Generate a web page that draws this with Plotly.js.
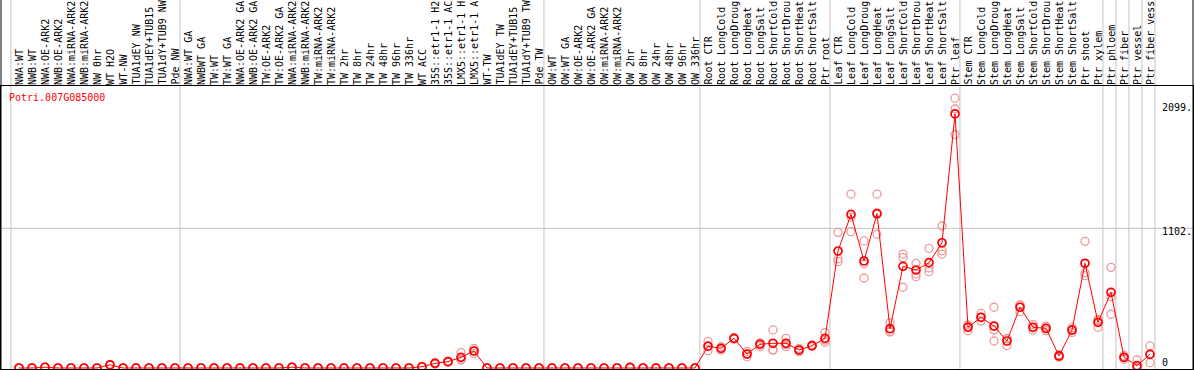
<!DOCTYPE html>
<html>
<head>
<meta charset="utf-8">
<script src="https://cdn.plot.ly/plotly-3.0.1.min.js"></script>
<style>
  html, body { margin: 0; padding: 0; background: #fff; }
  #chart { width: 1194px; height: 370px; }
</style>
</head>
<body>
<div id="chart"></div>
<script>
const geneName = 'Potri.007G085000';

const categories = [
  'NWA:WT', 'NWB:WT', 'NWA:OE-ARK2', 'NWB:OE-ARK2', 'NWA:miRNA-ARK2', 'NWB:miRNA-ARK2',
  'NW 0hr', 'WT H2O', 'WT-NW', 'TUA1dEY NW', 'TUA1dEY+TUB15 NW', 'TUA1dY+TUB9 NW', 'Pde NW',
  'NWA:WT GA', 'NWBWT GA', 'TW:WT', 'TW:WT GA', 'NWA:OE-ARK2 GA', 'NWB:OE-ARK2 GA',
  'TW:OE-ARK2', 'TW:OE-ARK2 GA', 'NWA:miRNA-ARK2', 'NWB:miRNA-ARK2', 'TW:miRNA-ARK2',
  'TW:miRNA-ARK2', 'TW 2hr', 'TW 8hr', 'TW 24hr', 'TW 48hr', 'TW 96hr', 'TW 336hr',
  'WT ACC', '35S::etr1-1 H2O', '35S::etr1-1 ACC', 'LMX5::etr1-1 H2O', 'LMX5::etr1-1 ACC',
  'WT-TW', 'TUA1dEY TW', 'TUA1dEY+TUB15 TW', 'TUA1dY+TUB9 TW', 'Pde TW',
  'OW:WT', 'OW:WT GA', 'OW:OE-ARK2', 'OW:OE-ARK2 GA', 'OW:miRNA-ARK2', 'OW:miRNA-ARK2',
  'OW 2hr', 'OW 8hr', 'OW 24hr', 'OW 48hr', 'OW 96hr', 'OW 336hr',
  'Root CTR', 'Root LongCold', 'Root LongDrought', 'Root LongHeat', 'Root LongSalt',
  'Root ShortCold', 'Root ShortDrought', 'Root ShortHeat', 'Root ShortSalt', 'Ptr root',
  'Leaf CTR', 'Leaf LongCold', 'Leaf LongDrought', 'Leaf LongHeat', 'Leaf LongSalt',
  'Leaf ShortCold', 'Leaf ShortDrought', 'Leaf ShortHeat', 'Leaf ShortSalt', 'Ptr leaf',
  'Stem CTR', 'Stem LongCold', 'Stem LongDrought', 'Stem LongHeat', 'Stem LongSalt',
  'Stem ShortCold', 'Stem ShortDrought', 'Stem ShortHeat', 'Stem ShortSalt', 'Ptr shoot',
  'Ptr xylem', 'Ptr phloem', 'Ptr fiber', 'Ptr vessel', 'Ptr fiber vessel'
];

const means = [
  0, 0, 6, 0, 0, 0, 0, 25, 0, 0, 0, 0, 0,
  0, 0, 0, 0, 0, 0, 0, 0, 6, 0, 0, 0, 0, 0, 0, 0, 0, 0, 10, 37, 50, 84, 134, 0, 0, 0, 0, 0,
  0, 0, 0, 0, 0, 0, 5, 0, 0, 0, 0, 0,
  172, 155, 234, 110, 187, 195, 195, 142, 176, 234,
  923, 1212, 844, 1217, 310, 802, 773, 831, 988, 2004,
  321, 400, 331, 213, 479, 321, 313, 95, 300, 826,
  360, 597, 84, 18, 108
];

const reps = [
  [0,0,0],[0,0,0],[5,8,5],[0,0,0],[0,0,0],[0,0,0],[0,0,0],[20,28,27],[0,0,0],[0,0,0],[0,0,0],[0,0,0],[0,0,0],
  [0,0,0],[0,0,0],[0,0,0],[0,0,0],[0,0,0],[0,0,0],[0,0,0],[0,0,0],[5,6,7],[0,0,0],[0,0,0],[0,0,0],
  [0,0,0],[0,0,0],[0,0,0],[0,0,0],[0,0,0],[0,0,0],[8,10,12],[30,37,44],[45,50,55],[121,63,68],[155,134,113],
  [0,0,0],[0,0,0],[0,0,0],[0,0,0],[0,0,0],
  [0,0,0],[0,0,0],[0,0,0],[0,0,0],[0,0,0],[0,0,0],[5,5,5],[0,0,0],[0,0,0],[0,0,0],[0,0,0],[0,0,0],
  [210,136,170],[142,168,155],[234,240,228],[89,110,131],[168,195,198],[300,142,143],[234,168,183],[155,129,142],[168,180,180],[279,203,220],
  [1070,839,860],[1372,1075,1190],[1002,708,822],[1372,1055,1224],[357,284,289],[899,870,637],[826,742,720],[944,760,789],[1120,925,899],[2128,2043,1841],
  [294,339,330],[431,400,370],[479,213,301],[230,176,233],[497,444,496],[321,300,342],[313,295,331],[95,85,105],[300,320,280],[999,728,751],
  [384,321,375],[794,562,424],[69,84,99],[63,0,0],[174,42,108]
];

const groupEnds = [-1, 12, 40, 52, 62, 72, 83, 84, 85, 86, 87];
const yTickVals = [0, 1102, 2099];
const yTickText = ['0', '1102.', '2099.'];
const yTickShift = [6, -3.5, -5.5];
const LABEL_CHARS = 14;   // fixed-width label field of the header

const idx = categories.map((_, i) => i);
const repX = [], repY = [];
reps.forEach((r, i) => r.forEach(v => { repX.push(i); repY.push(v); }));

const MONO = 'DejaVu Sans Mono, monospace';

const traces = [
  {
    x: repX, y: repY, type: 'scatter', mode: 'markers', cliponaxis: false,
    marker: { symbol: 'circle-open', size: 8, color: '#f09a9a', line: { width: 1.3, color: '#f09a9a' } },
    hoverinfo: 'skip'
  },
  {
    x: idx, y: means, type: 'scatter', mode: 'lines+markers', cliponaxis: false,
    line: { color: '#ff0000', width: 1 },
    marker: { symbol: 'circle-open', size: 8, color: '#ff0000', line: { width: 1.7, color: '#ff0000' } }
  }
];

const annotations = categories.map((c, i) => ({
  x: i, xref: 'x', y: 1, yref: 'paper', yanchor: 'bottom', xanchor: 'center',
  yshift: 0, text: c.slice(0, LABEL_CHARS), textangle: -90, showarrow: false,
  font: { family: MONO, size: 10, color: '#000' }, borderpad: 0
}));
annotations.push({
  x: 0, xref: 'paper', y: 1, yref: 'paper', xanchor: 'left', yanchor: 'middle',
  xshift: 7, yshift: -11, text: geneName, showarrow: false,
  font: { family: MONO, size: 10, color: '#ff0000' }, borderpad: 0
});
yTickVals.forEach((v, i) => annotations.push({
  x: 1, xref: 'paper', y: v, yref: 'y', xanchor: 'left', yanchor: 'middle',
  xshift: -32, yshift: yTickShift[i], text: yTickText[i], showarrow: false,
  font: { family: MONO, size: 10, color: '#000' }, borderpad: 0
}));

const shapes = groupEnds.map(g => ({
  type: 'line', xref: 'x', yref: 'paper', x0: g + 0.38, x1: g + 0.38, y0: 0, y1: 1.31,
  line: { color: '#c4c4c4', width: 1 }, layer: 'below'
}));
shapes.push({
  type: 'line', xref: 'paper', yref: 'y', x0: 0, x1: 1, y0: yTickVals[1], y1: yTickVals[1],
  line: { color: '#c4c4c4', width: 1 }, layer: 'below'
});
[0, 1].forEach(px => shapes.push({
  type: 'line', xref: 'paper', yref: 'paper', x0: px, x1: px, y0: 0, y1: 1.31,
  line: { color: '#000', width: 1 }, layer: 'above'
}));

const layout = {
  width: 1194, height: 370,
  margin: { l: 1, r: 1, t: 86, b: 1, pad: 0 },
  paper_bgcolor: '#fff', plot_bgcolor: '#fff',
  showlegend: false,
  xaxis: {
    range: [-1.3846, 90.308], showgrid: false, zeroline: false, showticklabels: false,
    ticks: '', showline: true, mirror: true, linecolor: '#000', linewidth: 1
  },
  yaxis: {
    range: [-7.9, 2224.4], showgrid: false, zeroline: false, showticklabels: false,
    ticks: '', showline: true, mirror: true, linecolor: '#000', linewidth: 1
  },
  annotations: annotations,
  shapes: shapes
};

Plotly.newPlot('chart', traces, layout, { staticPlot: true, displayModeBar: false });
</script>
</body>
</html>
